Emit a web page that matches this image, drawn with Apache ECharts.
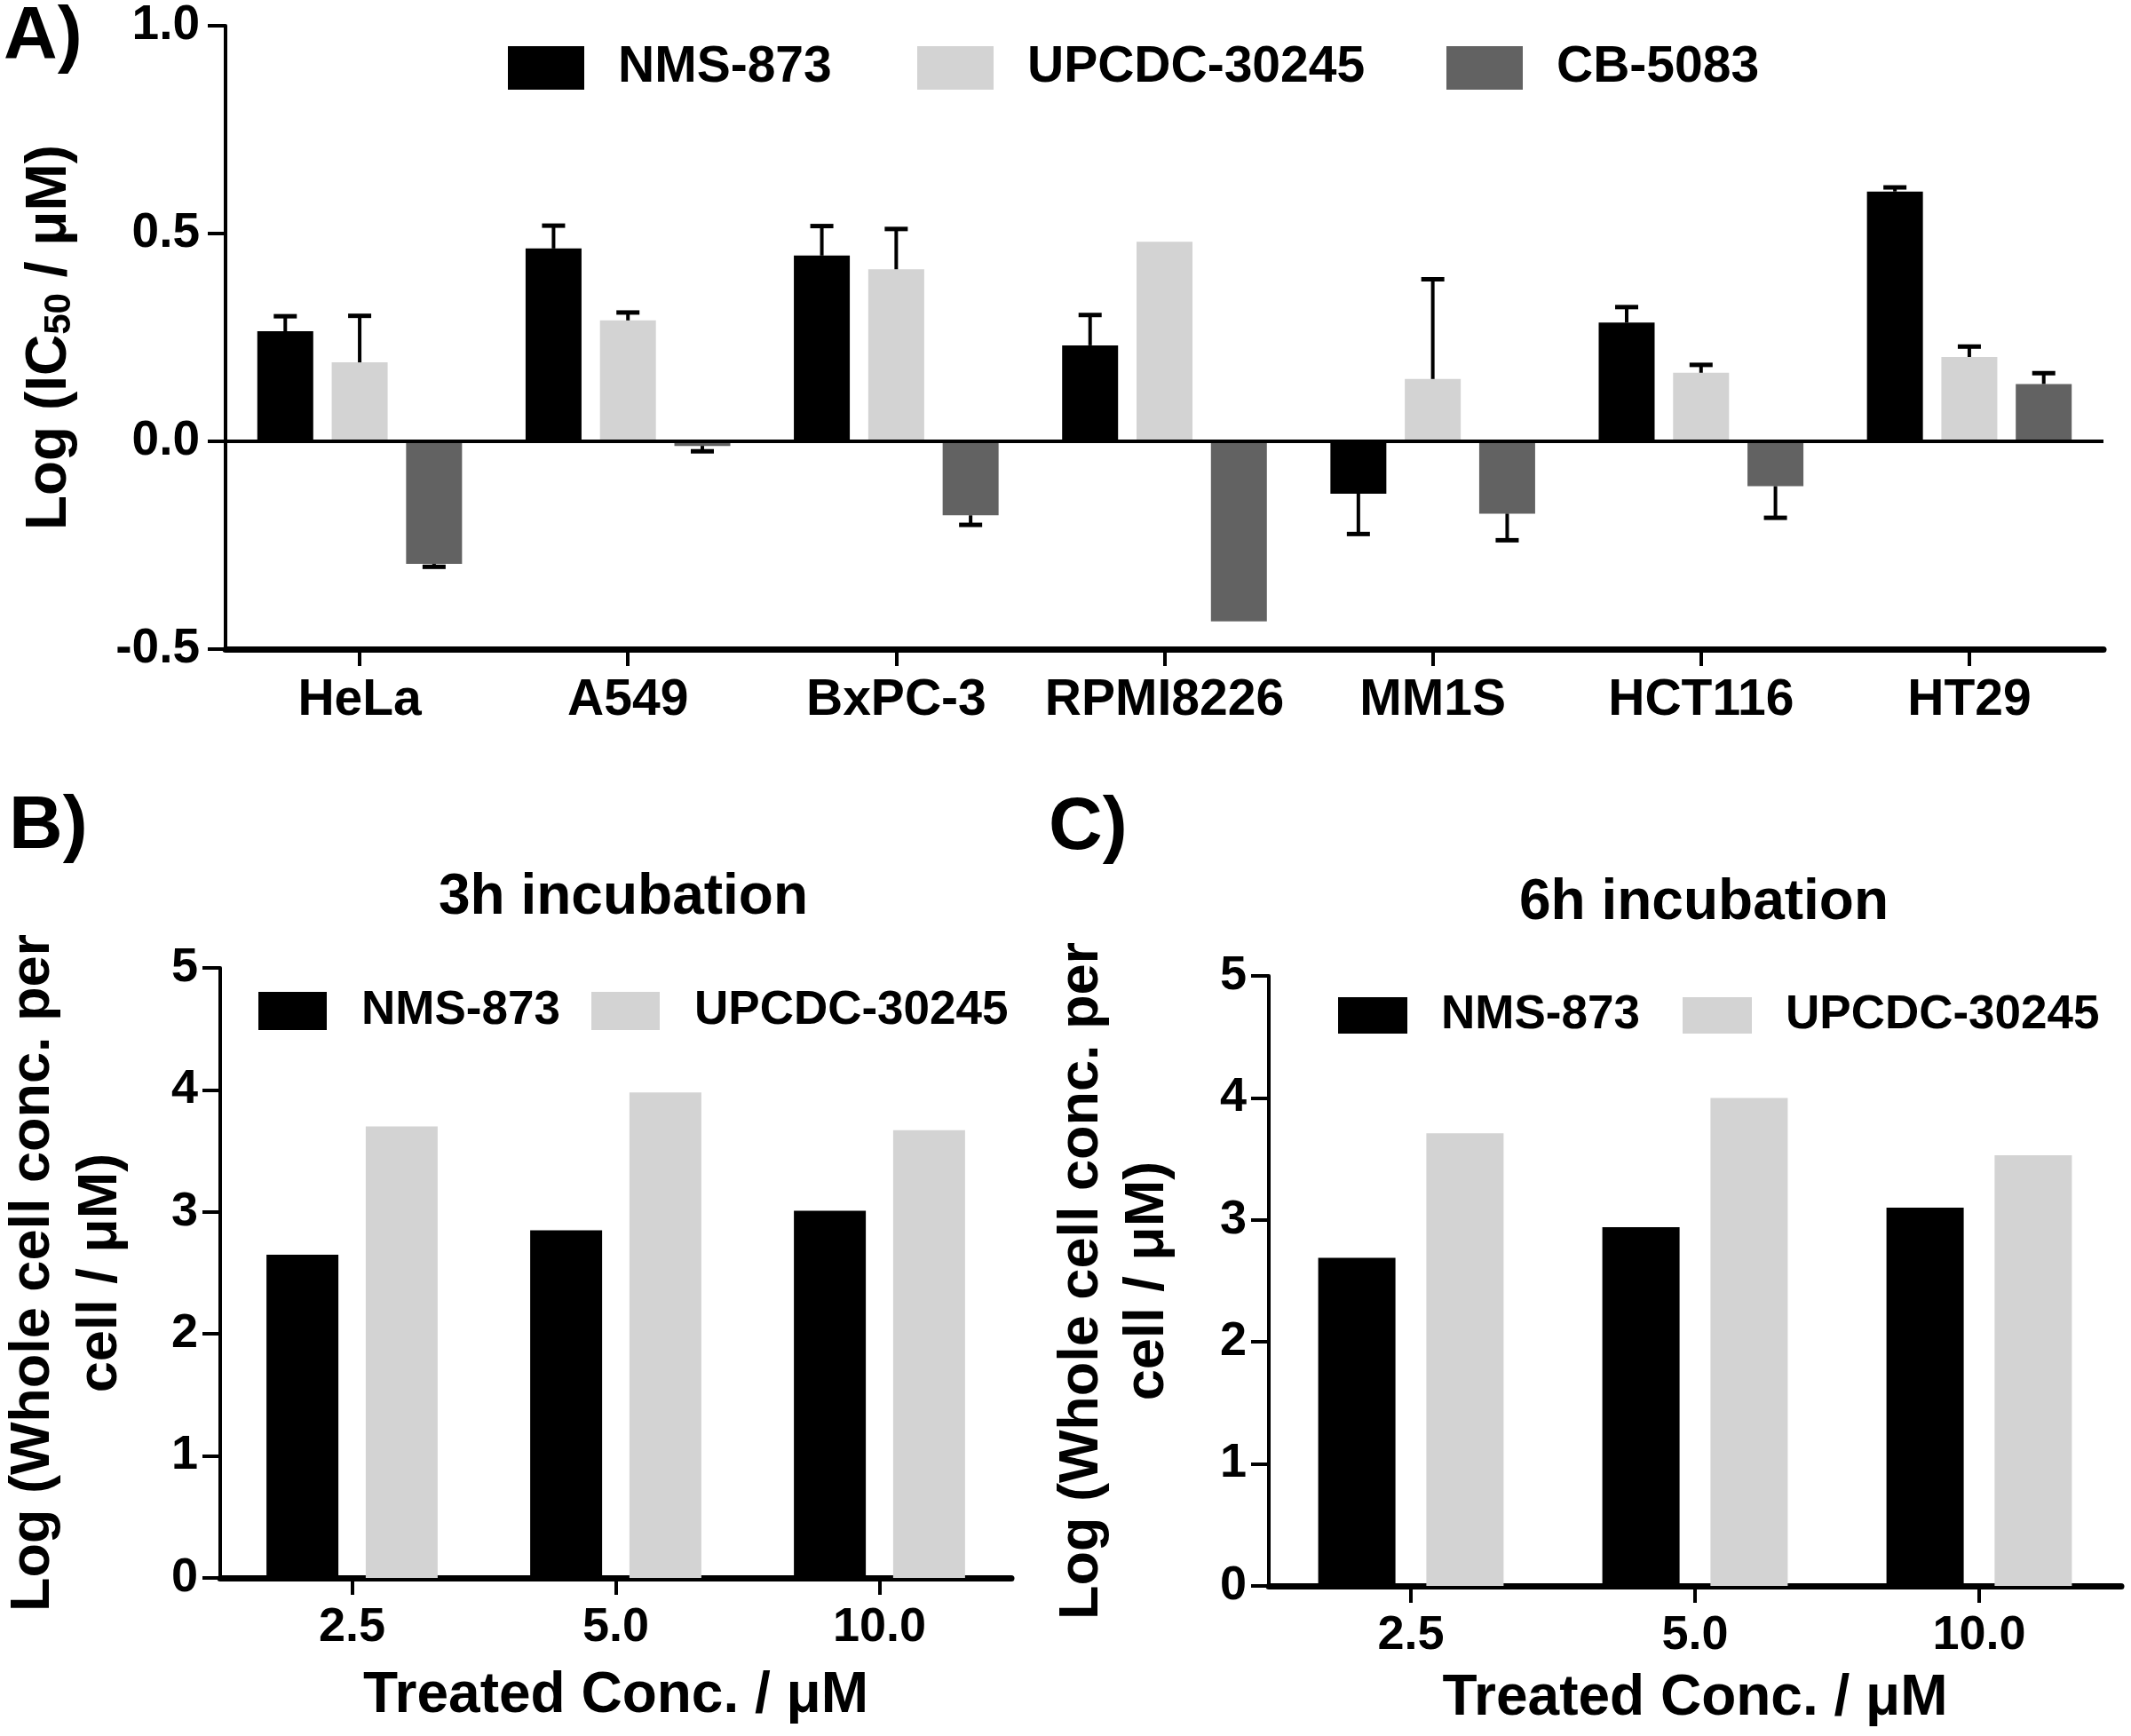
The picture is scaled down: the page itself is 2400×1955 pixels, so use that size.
<!DOCTYPE html>
<html>
<head>
<meta charset="utf-8">
<script src="https://cdn.jsdelivr.net/npm/echarts@6/dist/echarts.min.js"></script>
<style>
html,body{margin:0;padding:0;background:#fff;}
#chart{width:2400px;height:1955px;}
</style>
</head>
<body>
<div id="chart"></div>
<script>
// ---------- data ----------
const cellLines = ['HeLa', 'A549', 'BxPC-3', 'RPMI8226', 'MM1S', 'HCT116', 'HT29'];
const nmsIC50   = [0.265, 0.464, 0.447, 0.231, -0.126, 0.286, 0.601];
const nmsErr    = [0.036, 0.055, 0.071, 0.073, 0.097, 0.037, 0.010];
const upcIC50   = [0.190, 0.291, 0.414, 0.480, 0.150, 0.165, 0.203];
const upcErr    = [0.112, 0.019, 0.097, 0.000, 0.240, 0.019, 0.025];
const cbIC50    = [-0.295, -0.011, -0.178, -0.433, -0.174, -0.108, 0.138];
const cbErr     = [0.007, 0.013, 0.023, 0.000, 0.064, 0.076, 0.026];

const concLabels = ['2.5', '5.0', '10.0'];
const nms3h = [2.65, 2.85, 3.01];
const upc3h = [3.70, 3.98, 3.67];
const nms6h = [2.69, 2.94, 3.10];
const upc6h = [3.71, 4.00, 3.53];

const drugNames = ['NMS-873', 'UPCDC-30245', 'CB-5083'];

// ---------- style ----------
const FF = '"Liberation Sans", Arial, Helvetica, sans-serif';
const C_BLACK = '#000000', C_LIGHT = '#d3d3d3', C_DARK = '#626262';
const txt = (size, extra) => Object.assign({fontFamily: FF, fontWeight: 'bold', fontSize: size, color: '#000'}, extra || {});

const BAR_A = 63, GAP_A = 0.33;

function errRender(offset) {
  return function (params, api) {
    const ci = api.value(0), v = api.value(1), e = api.value(2);
    if (!e) return null;
    const end = v >= 0 ? v + e : v - e;
    const p0 = api.coord([ci, v]);
    const p1 = api.coord([ci, end]);
    const x = p0[0] + offset;
    return {
      type: 'group',
      children: [
        {type: 'line', shape: {x1: x, y1: p0[1], x2: x, y2: p1[1]}, style: {stroke: '#000', lineWidth: 4}},
        {type: 'line', shape: {x1: x - 13, y1: p1[1], x2: x + 13, y2: p1[1]}, style: {stroke: '#000', lineWidth: 5}}
      ]
    };
  };
}

function legendItem(name, left, top, w, h, size, pad) {
  return {
    data: [name], left: left, top: top, padding: 0, icon: 'rect',
    itemWidth: w, itemHeight: h, selectedMode: false,
    textStyle: txt(size, {padding: [0, 0, 0, pad]})
  };
}

const yAxisCommon = (gi, min, max, interval, labelSize, margin, fmt) => ({
  type: 'value', gridIndex: gi, min: min, max: max, interval: interval,
  axisLine: {show: true, lineStyle: {color: '#000', width: 4}},
  axisTick: {show: true, length: 20, lineStyle: {color: '#000', width: 4}},
  axisLabel: Object.assign(txt(labelSize), {margin: margin, formatter: fmt}),
  splitLine: {show: false}
});

const xAxisCommon = (gi, data, labelSize, margin, lw) => ({
  type: 'category', gridIndex: gi, data: data,
  axisLine: {show: true, onZero: false, lineStyle: {color: '#000', width: lw}},
  axisTick: {show: true, alignWithLabel: true, interval: 0, length: 19, lineStyle: {color: '#000', width: 4}},
  axisLabel: Object.assign(txt(labelSize), {margin: margin, interval: 0}),
  splitLine: {show: false}
});

const option = {
  animation: false,
  backgroundColor: '#fff',
  grid: [
    {left: 254, top: 29, width: 2115, height: 702, outerBoundsMode: 'none'},
    {left: 248, top: 1090, width: 891, height: 687, outerBoundsMode: 'none'},
    {left: 1429, top: 1099, width: 960, height: 687, outerBoundsMode: 'none'}
  ],
  title: [
    {text: '3h incubation', left: 702, top: 979, textAlign: 'center', padding: 0, textStyle: txt(64)},
    {text: '6h incubation', left: 1919, top: 985, textAlign: 'center', padding: 0, textStyle: txt(64)}
  ],
  legend: [
    legendItem('NMS-873', 572, 48, 86, 49, 57, 33),
    legendItem('UPCDC-30245', 1033, 48, 86, 49, 57, 33),
    legendItem('CB-5083', 1629, 48, 86, 49, 57, 33),
    legendItem('NMS-873', 291, 1112, 77, 43, 53, 34),
    legendItem('UPCDC-30245', 666, 1112, 77, 43, 53, 34),
    legendItem('NMS-873', 1507, 1117, 78, 41, 53, 33),
    legendItem('UPCDC-30245', 1895, 1117, 78, 41, 53, 33)
  ],
  xAxis: [
    xAxisCommon(0, cellLines, 57, 30, 7),
    Object.assign(xAxisCommon(1, concLabels, 54, 29, 7), {
      name: 'Treated Conc. / μM', nameLocation: 'middle', nameGap: 101, nameTextStyle: txt(64)
    }),
    Object.assign(xAxisCommon(2, concLabels, 54, 29, 7), {
      name: 'Treated Conc. / μM', nameLocation: 'middle', nameGap: 95, nameTextStyle: txt(64)
    })
  ],
  yAxis: [
    Object.assign(yAxisCommon(0, -0.5, 1, 0.5, 55, 29, v => v.toFixed(1)), {
      name: '{a|Log (IC}{s|50}{a| / μM)}', nameLocation: 'middle', nameRotate: 90, nameGap: 166,
      nameTextStyle: {
        rich: {
          a: txt(64, {lineHeight: 64, verticalAlign: 'bottom'}),
          s: txt(42, {lineHeight: 64, verticalAlign: 'bottom'})
        }
      }
    }),
    Object.assign(yAxisCommon(1, 0, 5, 1, 54, 25, v => String(v)), {
      name: 'Log (Whole cell conc. per\ncell / μM)', nameLocation: 'middle', nameRotate: 90, nameGap: 96,
      nameTextStyle: txt(63, {lineHeight: 76, align: 'center'})
    }),
    Object.assign(yAxisCommon(2, 0, 5, 1, 54, 25, v => String(v)), {
      name: 'Log (Whole cell conc. per\ncell / μM)', nameLocation: 'middle', nameRotate: 90, nameGap: 99,
      nameTextStyle: txt(63, {lineHeight: 74, align: 'center'})
    })
  ],
  graphic: [
    {type: 'text', left: 4, top: 1, style: {text: 'A)', font: 'bold 84px ' + FF, fill: '#000'}},
    {type: 'text', left: 10, top: 890, style: {text: 'B)', font: 'bold 84px ' + FF, fill: '#000'}},
    {type: 'text', left: 1181, top: 891, style: {text: 'C)', font: 'bold 84px ' + FF, fill: '#000'}}
  ],
  series: [
    // Panel A bars
    {
      name: drugNames[0], type: 'bar', xAxisIndex: 0, yAxisIndex: 0, data: nmsIC50,
      barWidth: BAR_A, barGap: (GAP_A * 100) + '%', itemStyle: {color: C_BLACK},
      markLine: {
        silent: true, symbol: ['none', 'none'], label: {show: false},
        lineStyle: {color: '#000', width: 4, type: 'solid'},
        data: [{yAxis: 0}], animation: false
      }, z: 2
    },
    {name: drugNames[1], type: 'bar', xAxisIndex: 0, yAxisIndex: 0, data: upcIC50,
      barWidth: BAR_A, barGap: (GAP_A * 100) + '%', itemStyle: {color: C_LIGHT}},
    {name: drugNames[2], type: 'bar', xAxisIndex: 0, yAxisIndex: 0, data: cbIC50,
      barWidth: BAR_A, barGap: (GAP_A * 100) + '%', itemStyle: {color: C_DARK}},
    // Panel A error bars
    {name: 'NMS-873 err', type: 'custom', xAxisIndex: 0, yAxisIndex: 0, z: 3,
      renderItem: errRender(-BAR_A * (1 + GAP_A)), encode: {x: 0, y: 1},
      data: cellLines.map((c, i) => [i, nmsIC50[i], nmsErr[i]])},
    {name: 'UPCDC-30245 err', type: 'custom', xAxisIndex: 0, yAxisIndex: 0, z: 3,
      renderItem: errRender(0), encode: {x: 0, y: 1},
      data: cellLines.map((c, i) => [i, upcIC50[i], upcErr[i]])},
    {name: 'CB-5083 err', type: 'custom', xAxisIndex: 0, yAxisIndex: 0, z: 3,
      renderItem: errRender(BAR_A * (1 + GAP_A)), encode: {x: 0, y: 1},
      data: cellLines.map((c, i) => [i, cbIC50[i], cbErr[i]])},
    // Panel B
    {name: drugNames[0], type: 'bar', xAxisIndex: 1, yAxisIndex: 1, data: nms3h,
      barWidth: 81, barGap: '38%', itemStyle: {color: C_BLACK}},
    {name: drugNames[1], type: 'bar', xAxisIndex: 1, yAxisIndex: 1, data: upc3h,
      barWidth: 81, barGap: '38%', itemStyle: {color: C_LIGHT}},
    // Panel C
    {name: drugNames[0], type: 'bar', xAxisIndex: 2, yAxisIndex: 2, data: nms6h,
      barWidth: 87, barGap: '40%', itemStyle: {color: C_BLACK}},
    {name: drugNames[1], type: 'bar', xAxisIndex: 2, yAxisIndex: 2, data: upc6h,
      barWidth: 87, barGap: '40%', itemStyle: {color: C_LIGHT}}
  ]
};

const chart = echarts.init(document.getElementById('chart'), null, {renderer: 'canvas'});
chart.setOption(option);
</script>
</body>
</html>
